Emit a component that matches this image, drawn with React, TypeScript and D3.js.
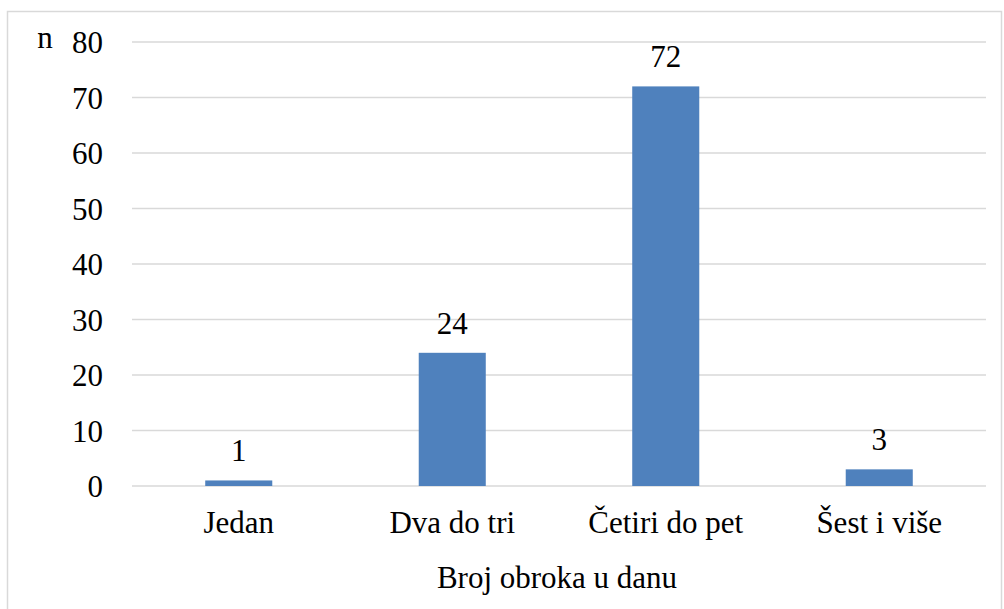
import React from "react";
import * as d3 from "d3";

const categories = ["Jedan", "Dva do tri", "Četiri do pet", "Šest i više"];
const values = [1, 24, 72, 3];
const yTicks = [0, 10, 20, 30, 40, 50, 60, 70, 80];
const xTitle = "Broj obroka u danu";
const yTitle = "n";

const W = 1004;
const H = 609;
const left = 132;
const right = 986;
const top = 42;
const bottom = 486;
const textStyle: React.CSSProperties = { fontFamily: '"Liberation Serif", "DejaVu Serif", "Times New Roman", serif', fontSize: "31px" };

export default function App() {
  const x = d3.scaleBand<string>().domain(categories).range([left, right]).paddingInner(0.686).paddingOuter(0.343);
  const y = d3.scaleLinear().domain([0, 80]).range([bottom, top]);
  return (
    <svg width={W} height={H} style={{ position: "absolute", left: 0, top: 0, background: "#fff" }}>
      <rect x={7.5} y={11.5} width={994} height={610} fill="#fff" stroke="#d9d9d9" strokeWidth={1.5} />
      {yTicks.map((t) => (
        <g key={t}>
          <line x1={left} x2={right} y1={y(t)} y2={y(t)} stroke="#d9d9d9" strokeWidth={1.5} />
          <text x={103} y={y(t)} dy="0.36em" textAnchor="end" style={textStyle} fill="#000">
            {t}
          </text>
        </g>
      ))}
      <text x={45} y={48} textAnchor="middle" style={textStyle} fill="#000">
        {yTitle}
      </text>
      {categories.map((c, i) => (
        <g key={c}>
          <rect
            x={x(c)}
            y={y(values[i])}
            width={x.bandwidth()}
            height={y(0) - y(values[i])}
            fill="#4f81bd"
          />
          <text x={(x(c) as number) + x.bandwidth() / 2} y={y(values[i]) - 19} textAnchor="middle" style={textStyle} fill="#000">
            {values[i]}
          </text>
          <text x={(x(c) as number) + x.bandwidth() / 2} y={533} textAnchor="middle" style={textStyle} fill="#000">
            {c}
          </text>
        </g>
      ))}
      <text x={557} y={588} textAnchor="middle" style={textStyle} fill="#000">
        {xTitle}
      </text>
    </svg>
  );
}
